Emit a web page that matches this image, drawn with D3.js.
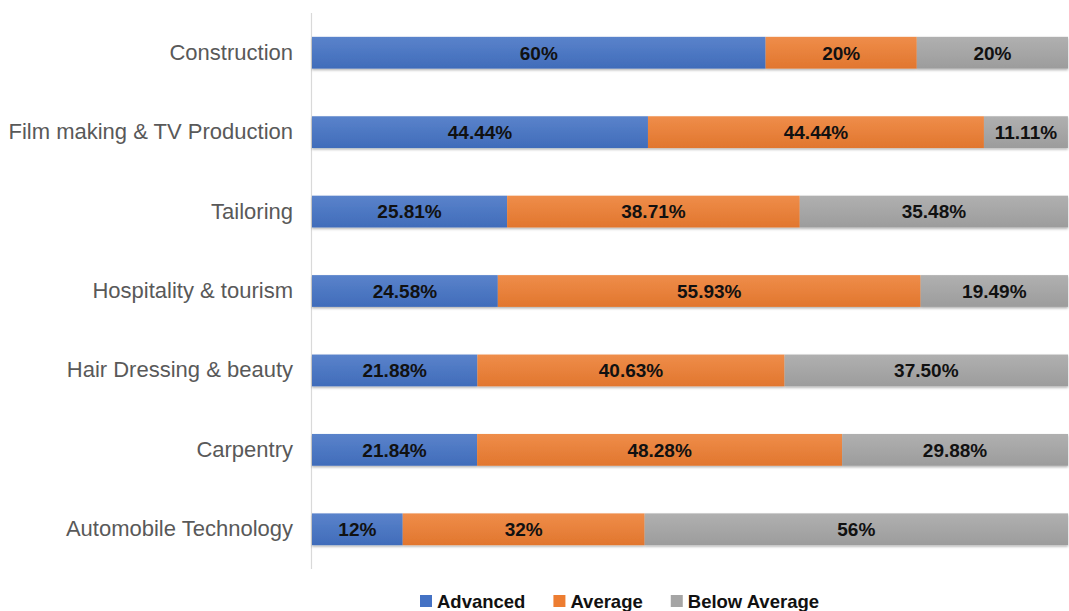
<!DOCTYPE html>
<html>
<head>
<meta charset="utf-8">
<script src="https://cdn.jsdelivr.net/npm/d3@7"></script>
<style>
  body { margin: 0; background: #fff; }
</style>
</head>
<body>
<div class="container"></div>
<script>
var categories = ["Construction", "Film making & TV Production", "Tailoring", "Hospitality & tourism",
    "Hair Dressing & beauty", "Carpentry", "Automobile Technology"];
var advanced = [60, 44.44, 25.81, 24.58, 21.88, 21.84, 12];
var average = [20, 44.44, 38.71, 55.93, 40.63, 48.28, 32];
var belowAverage = [20, 11.11, 35.48, 19.49, 37.50, 29.88, 56];
var advancedLabels = ["60%", "44.44%", "25.81%", "24.58%", "21.88%", "21.84%", "12%"];
var averageLabels = ["20%", "44.44%", "38.71%", "55.93%", "40.63%", "48.28%", "32%"];
var belowLabels = ["20%", "11.11%", "35.48%", "19.49%", "37.50%", "29.88%", "56%"];
var seriesNames = ["Advanced", "Average", "Below Average"];
var seriesColors = ["#4472C4", "#ED7D31", "#A5A5A5"];

var svgWidth = 1069;
var svgHeight = 611;
var chartMargin = { top: 13, bottom: 42, left: 312, right: 1 };
var chartWidth = svgWidth - chartMargin.left - chartMargin.right;
var chartHeight = svgHeight - chartMargin.top - chartMargin.bottom;

var svg = d3.select(".container")
    .append("svg")
    .attr("width", svgWidth)
    .attr("height", svgHeight)
    .style("font-family", "'Liberation Sans', Arial, sans-serif");

// gradients + shadow to mimic the office look
var defs = svg.append("defs");
seriesColors.forEach(function (c, i) {
    var g = defs.append("linearGradient")
        .attr("id", "grad" + i)
        .attr("x1", 0).attr("y1", 0).attr("x2", 0).attr("y2", 1);
    g.append("stop").attr("offset", "0%").attr("stop-color", d3.interpolateRgb(c, "#fff")(0.12));
    g.append("stop").attr("offset", "100%").attr("stop-color", d3.color(c).darker(0.15));
});
var shadow = defs.append("filter").attr("id", "shadow")
    .attr("x", "-2%").attr("y", "-20%").attr("width", "104%").attr("height", "160%");
shadow.append("feDropShadow")
    .attr("dx", 0).attr("dy", 1.5).attr("stdDeviation", 1)
    .attr("flood-color", "#000").attr("flood-opacity", 0.3);

var chartGroup = svg.append("g")
    .attr("transform", `translate(${chartMargin.left}, ${chartMargin.top})`);

var rows = categories.map(function (c, i) {
    return {
        name: c,
        values: [advanced[i], average[i], belowAverage[i]],
        labels: [advancedLabels[i], averageLabels[i], belowLabels[i]]
    };
});

var xLinearScale = d3.scaleLinear()
    .domain([0, 100])
    .range([0, chartWidth]);

var yBandScale = d3.scaleBand()
    .domain(categories)
    .range([0, chartHeight])
    .paddingInner(0.6)
    .paddingOuter(0.3);

// category axis
var leftAxis = d3.axisLeft(yBandScale).tickSize(0).tickPadding(19);
var axisG = chartGroup.append("g").call(leftAxis);
axisG.select(".domain").attr("stroke", "#d9d9d9").attr("stroke-width", 1.2)
    .attr("d", `M-0.5,0V${chartHeight}`);
axisG.selectAll("text")
    .attr("font-size", "22px")
    .attr("fill", "#595959")
    .style("font-family", "'Liberation Sans', Arial, sans-serif");

var rowG = chartGroup.selectAll(".row")
    .data(rows)
    .enter()
    .append("g")
    .classed("row", true)
    .attr("transform", d => `translate(0, ${yBandScale(d.name)})`);

rowG.each(function (d) {
    var g = d3.select(this);
    var start = 0;
    var segs = d.values.map(function (v, i) {
        var s = { x0: start, x1: start + v, label: d.labels[i], i: i };
        start += v;
        return s;
    });
    g.append("g").attr("filter", "url(#shadow)")
        .selectAll("rect")
        .data(segs)
        .enter()
        .append("rect")
        .attr("x", s => xLinearScale(s.x0))
        .attr("width", s => xLinearScale(s.x1) - xLinearScale(s.x0))
        .attr("y", 0)
        .attr("height", yBandScale.bandwidth())
        .attr("fill", s => `url(#grad${s.i})`);
    g.selectAll("text.lbl")
        .data(segs)
        .enter()
        .append("text")
        .classed("lbl", true)
        .attr("x", s => (xLinearScale(s.x0) + xLinearScale(s.x1)) / 2)
        .attr("y", yBandScale.bandwidth() / 2)
        .attr("dy", "0.36em")
        .attr("text-anchor", "middle")
        .attr("font-size", "19px")
        .attr("font-weight", "bold")
        .attr("fill", "#111")
        .text(s => s.label);
});

// legend
var legend = svg.append("g").attr("transform", "translate(420, 601)");
var lx = 0;
seriesNames.forEach(function (name, i) {
    var item = legend.append("g").attr("transform", `translate(${lx}, 0)`);
    item.append("rect")
        .attr("x", 0).attr("y", -6)
        .attr("width", 12).attr("height", 12)
        .attr("fill", seriesColors[i]);
    var t = item.append("text")
        .attr("x", 17)
        .attr("dy", "0.36em")
        .attr("font-size", "18.5px")
        .attr("font-weight", "bold")
        .attr("fill", "#111")
        .text(name);
    lx += 17 + t.node().getComputedTextLength() + 28;
});
</script>
</body>
</html>
